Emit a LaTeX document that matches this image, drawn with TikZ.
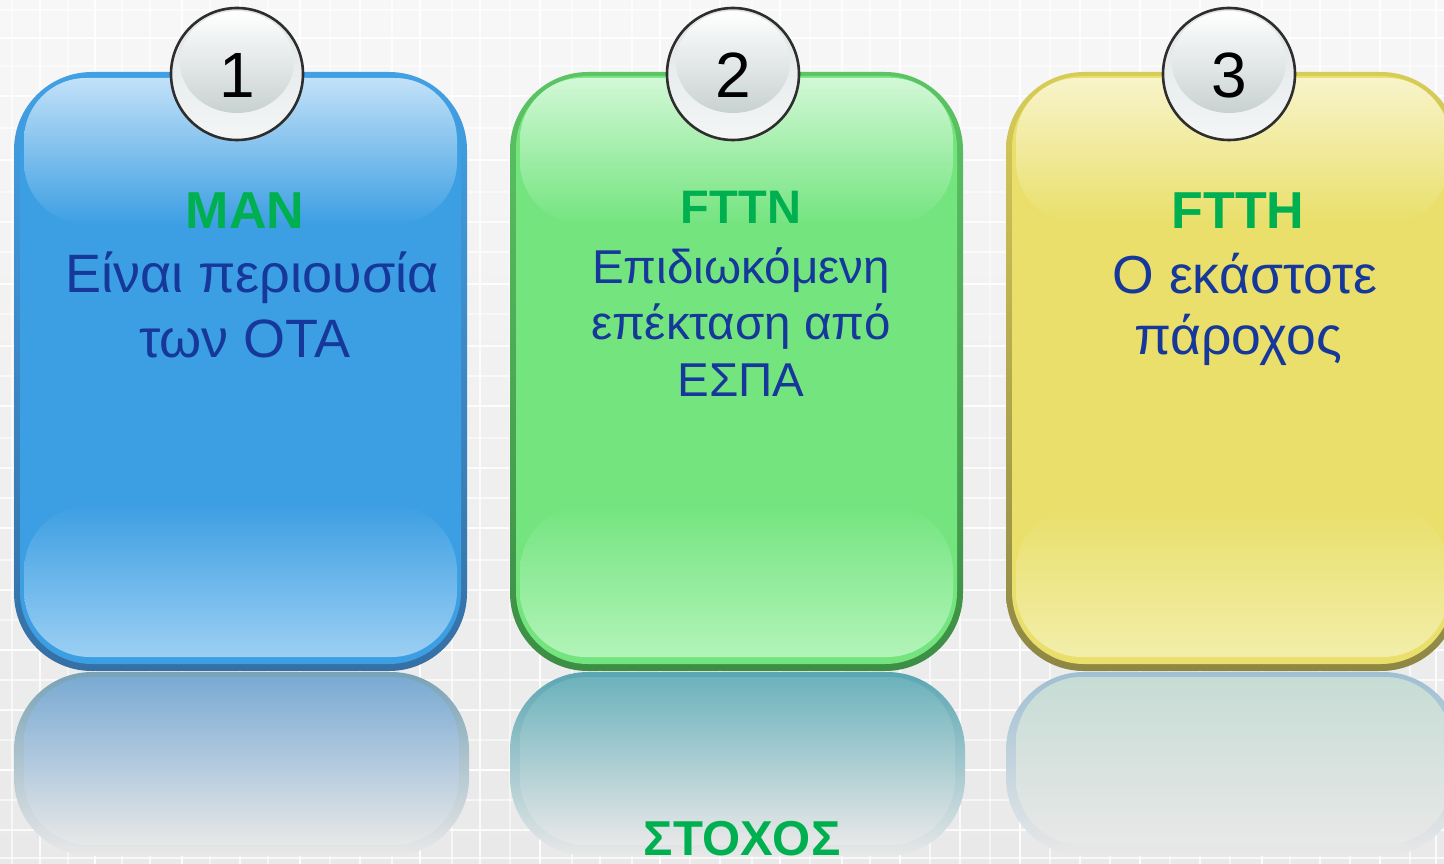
\documentclass[tikz,border=0pt]{standalone}
\usepackage{fontspec}
\setmainfont{Liberation Sans}
\definecolor{bgtop}{HTML}{F7F7F7}
\definecolor{bgbot}{HTML}{E9E9E9}
\definecolor{reflbot}{HTML}{E8E8E8}
\definecolor{txtgreen}{HTML}{00B050}
\definecolor{txtblue}{HTML}{16389A}
% blue panel
\definecolor{blueedge}{HTML}{42A0E4}
\definecolor{bluedark}{HTML}{3570A5}
\definecolor{bluemain}{HTML}{3D9FE3}
\definecolor{bluehi}{HTML}{C2E1F8}
\definecolor{blueglow}{HTML}{9CCFF3}
\definecolor{bluerb}{HTML}{78A2B6}
\definecolor{bluert}{HTML}{7AAAD3}
\definecolor{bluerm}{HTML}{C5D3E0}
% green panel
\definecolor{greenedge}{HTML}{5CC464}
\definecolor{greendark}{HTML}{3C8E44}
\definecolor{greenmain}{HTML}{74E47F}
\definecolor{greenhi}{HTML}{D2F8D6}
\definecolor{greenglow}{HTML}{B2F4B9}
\definecolor{greenrb}{HTML}{5AA6B2}
\definecolor{greenrt}{HTML}{6CB2BC}
\definecolor{greenrm}{HTML}{B8CFD3}
% yellow panel
\definecolor{yellowedge}{HTML}{D8CC58}
\definecolor{yellowdark}{HTML}{8E8744}
\definecolor{yellowmain}{HTML}{E9DF6A}
\definecolor{yellowhi}{HTML}{F8F4CA}
\definecolor{yellowglow}{HTML}{F2EEAA}
\definecolor{yellowrb}{HTML}{9FBFD3}
\definecolor{yellowrt}{HTML}{C6DCD4}
\definecolor{yellowrm}{HTML}{DDE3E0}
% circle
\definecolor{circring}{HTML}{DFE4E4}
\definecolor{circringb}{HTML}{F4F6F6}
\definecolor{circin}{HTML}{C8D1D1}
\definecolor{circline}{HTML}{2E2E2E}

\newcommand\mypanel[2]{%
  \shade[top color=#2edge, bottom color=#2dark, rounded corners=78] (#1,72) rectangle ++(453,599);
  \fill[#2main, rounded corners=72] (#1+6,76) rectangle (#1+447,664);
  \shade[top color=#2hi, bottom color=#2main, rounded corners=62] (#1+10,78) rectangle (#1+443,224);
  \shade[top color=#2main, bottom color=#2glow, rounded corners=66] (#1+10,505) rectangle (#1+443,657);
  \shade[top color=#2rb, bottom color=reflbot, rounded corners=78] (#1,672) rectangle ++(455,184);
  \shade[top color=#2rt, middle color=#2rm, bottom color=reflbot, rounded corners=66] (#1+10,677) rectangle (#1+445,845);
}
\newcommand\mycircle[3]{%
  \shade[top color=circring, bottom color=circringb] (#1,74) circle (66);
  \shade[top color=white, bottom color=circin] (#1,62) ellipse (57 and 51);
  \draw[circline, line width=2.6] (#1,74) circle (66);
  \node[numtext] (#3) at (#1,98) {#2};
}
\tikzset{
  numtext/.style={anchor=base, inner sep=0, text=black, font=\fontsize{64}{70}\selectfont},
  headtext/.style={anchor=base, inner sep=0, text=txtgreen, font=\bfseries\fontsize{#1}{#1}\selectfont},
  bodytext/.style={anchor=base, inner sep=0, text=txtblue, font=\fontsize{#1}{#1}\selectfont},
}
\begin{document}
\begin{tikzpicture}[x=1pt,y=-1pt]
\useasboundingbox (0,0) rectangle (1444,864);
\clip (0,0) rectangle (1444,864);
% background
\shade[top color=bgtop, bottom color=bgbot] (0,0) rectangle (1444,864);
\foreach \gx/\o in {12/0.6,40/0.8,68/0.5,95/0.9,122/0.6,150/0.7,182/0.9,210/0.5,240/0.8,268/0.6,300/0.9,330/0.5,360/0.8,392/0.7,420/0.9,452/0.6,480/0.8,510/0.5,540/0.9,572/0.6,600/0.8,632/0.7,660/0.9,690/0.5,720/0.8,752/0.6,780/0.9,810/0.5,842/0.8,870/0.7,900/0.9,930/0.6,960/0.8,990/0.5,1020/0.9,1050/0.6,1080/0.8,1110/0.7,1140/0.9,1170/0.5,1200/0.8,1230/0.6,1262/0.9,1290/0.5,1320/0.8,1350/0.7,1380/0.9,1410/0.6,1436/0.8}
  \draw[white, line width=2.5, opacity=\o] (\gx,0) -- (\gx,864);
\foreach \gy/\o in {10/0.7,38/0.9,66/0.5,96/0.8,128/0.6,160/0.9,192/0.5,222/0.8,252/0.7,284/0.9,314/0.5,346/0.8,376/0.6,406/0.9,438/0.5,468/0.8,498/0.7,528/0.9,560/0.6,590/0.8,620/0.5,650/0.9,680/0.7,710/0.8,740/0.5,770/0.9,800/0.6,830/0.8,858/0.7}
  \draw[white, line width=2.5, opacity=\o] (0,\gy) -- (1444,\gy);
% panels
\mypanel{14}{blue}
\mypanel{510}{green}
\mypanel{1006}{yellow}
% number circles
\mycircle{237}{1}{n1}
\mycircle{733}{2}{n2}
\mycircle{1229}{3}{n3}
% texts panel 1
\node[headtext=52] (t1a) at (245,229) {MAN};
\node[bodytext=54] (t1b) at (252,292) {Είναι περιουσία};
\node[bodytext=54] (t1c) at (245,357) {των ΟΤΑ};
% texts panel 2
\node[headtext=47] (t2a) at (741,223) {FTTN};
\node[bodytext=47.5] (t2b) at (741,283) {Επιδιωκόμενη};
\node[bodytext=47.5] (t2c) at (741,339) {επέκταση από};
\node[bodytext=47.5] (t2d) at (741,396) {ΕΣΠΑ};
% texts panel 3
\node[headtext=52] (t3a) at (1238,228) {FTTH};
\node[bodytext=53.5] (t3b) at (1245,293) {Ο εκάστοτε};
\node[bodytext=53.5] (t3c) at (1238,354) {πάροχος};
% goal
\node[headtext=49] (goal) at (742,855) {ΣΤΟΧΟΣ};
\end{tikzpicture}
\end{document}
